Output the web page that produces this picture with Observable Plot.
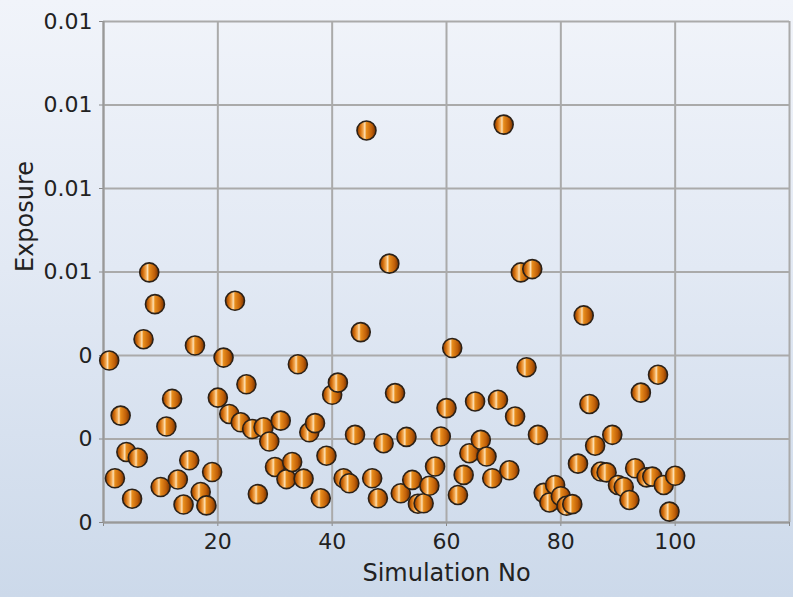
<!DOCTYPE html>
<html>
<head>
<meta charset="utf-8">
<script src="https://cdn.jsdelivr.net/npm/d3@7"></script>
<script src="https://cdn.jsdelivr.net/npm/@observablehq/plot@0.6"></script>
<style>
  html, body { margin: 0; padding: 0; }
  body { width: 793px; height: 597px; overflow: hidden;
         background: linear-gradient(to bottom, #f1f4fa 0%, #e2e9f4 45%, #ccd9ea 100%); }
  #chart svg { display: block; }
</style>
</head>
<body>
<div id="chart"></div>
<script>
const simNo = [
  1,2,3,4,5,6,7,8,9,10,11,12,13,14,15,16,17,18,19,20,
  21,22,23,24,25,26,27,28,29,30,31,32,33,34,35,36,37,38,39,40,
  41,42,43,44,45,46,47,48,49,50,51,52,53,54,55,56,57,58,59,60,
  61,62,63,64,65,66,67,68,69,70,71,72,73,74,75,76,77,78,79,80,
  81,82,83,84,85,86,87,88,89,90,91,92,93,94,95,96,97,98,99,100
];
const exposure = [
  0.00388,0.00106,0.00256,0.00169,0.00057,0.00155,0.00439,0.00599,0.00523,0.00085,
  0.00230,0.00296,0.00103,0.00043,0.00149,0.00424,0.00073,0.00041,0.00121,0.00299,
  0.00395,0.00260,0.00531,0.00240,0.00331,0.00224,0.00068,0.00228,0.00194,0.00133,
  0.00244,0.00104,0.00145,0.00379,0.00105,0.00216,0.00238,0.00058,0.00160,0.00306,
  0.00335,0.00106,0.00094,0.00210,0.00456,0.00939,0.00106,0.00058,0.00190,0.00620,
  0.00310,0.00070,0.00205,0.00102,0.00045,0.00046,0.00088,0.00134,0.00206,0.00274,
  0.00418,0.00066,0.00114,0.00166,0.00290,0.00198,0.00158,0.00106,0.00294,0.00953,
  0.00125,0.00254,0.00599,0.00372,0.00607,0.00210,0.00071,0.00048,0.00090,0.00063,
  0.00040,0.00044,0.00141,0.00496,0.00284,0.00184,0.00122,0.00120,0.00210,0.00090,
  0.00085,0.00054,0.00130,0.00311,0.00108,0.00110,0.00354,0.00090,0.00026,0.00112
];
const xTicks = [0, 20, 40, 60, 80, 100, 120];
const yTicks = [0, 0.002, 0.004, 0.006, 0.008, 0.010, 0.012];
const xLabel = "Simulation No";
const yLabel = "Exposure";

const data = simNo.map((s, i) => ({sim: s, exposure: exposure[i]}));
const gridColor = "#aaaaaa";
const xFmt = d => (d === 0 || d === 120) ? "" : String(d);
const yFmt = d => String(+d.toFixed(2));

const chart = Plot.plot({
  width: 793,
  height: 597,
  marginLeft: 103,
  marginRight: 4,
  marginTop: 21,
  marginBottom: 75,
  style: {background: "transparent", fontFamily: "DejaVu Sans", fontSize: "22px", color: "#222"},
  x: {domain: [0, 120], label: null},
  y: {domain: [0, 0.012], label: null},
  marks: [
    Plot.gridX(xTicks, {stroke: gridColor, strokeOpacity: 1, strokeWidth: 2}),
    Plot.gridY(yTicks, {stroke: gridColor, strokeOpacity: 1, strokeWidth: 2}),
    Plot.axisX(xTicks, {tickFormat: xFmt, tickSize: 4, tickPadding: 7, stroke: "#888", label: null, fontSize: 22}),
    Plot.axisY(yTicks, {tickFormat: yFmt, tickSize: 4, tickPadding: 7, stroke: "#888", label: null, fontSize: 22}),
    Plot.ruleX([0], {stroke: "#999", strokeWidth: 2}),
    Plot.ruleY([0], {stroke: "#999", strokeWidth: 2}),
    Plot.dot(data, {x: "sim", y: "exposure", r: 9.5, fill: "url(#ball)", stroke: "#2b2118", strokeWidth: 1.6}),
    Plot.text([xLabel], {frameAnchor: "bottom", dy: 58, fontSize: 24, fill: "#222"}),
    Plot.text([yLabel], {frameAnchor: "left", dx: -78, rotate: -90, fontSize: 24, fill: "#222"})
  ]
});

d3.select(chart).insert("defs", ":first-child").html(`
  <linearGradient id="ball" x1="0" y1="0" x2="1" y2="0">
    <stop offset="0%" stop-color="#843600"/>
    <stop offset="18%" stop-color="#d46f0c"/>
    <stop offset="33%" stop-color="#f4ab55"/>
    <stop offset="41%" stop-color="#fde0b4"/>
    <stop offset="50%" stop-color="#e88d1c"/>
    <stop offset="78%" stop-color="#c05f08"/>
    <stop offset="100%" stop-color="#723000"/>
  </linearGradient>`);

document.getElementById("chart").appendChild(chart);
</script>
</body>
</html>
